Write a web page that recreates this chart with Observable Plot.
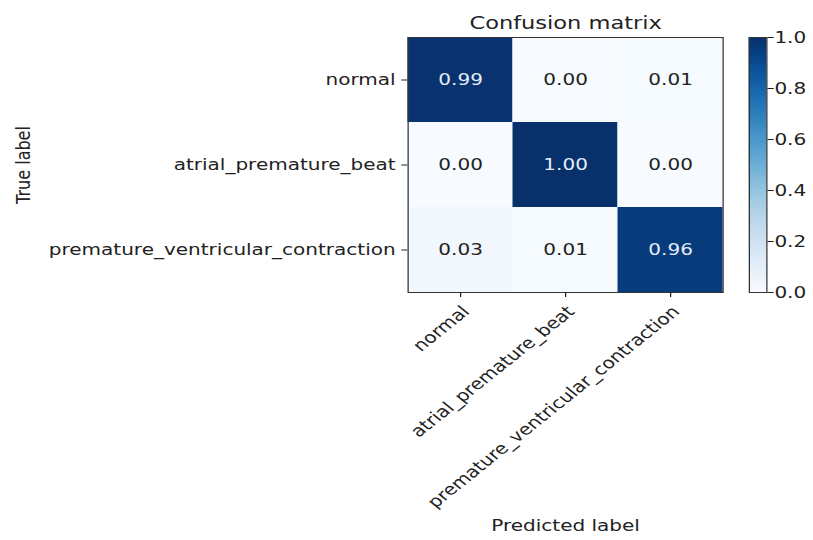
<!DOCTYPE html>
<html>
<head>
<meta charset="utf-8">
<script src="https://cdn.jsdelivr.net/npm/d3@7"></script>
<script src="https://cdn.jsdelivr.net/npm/@observablehq/plot@0.6"></script>
<style>
  html, body { margin: 0; padding: 0; background: white; }
  #wrap { position: relative; width: 650.4px; height: 540px; transform: scaleX(1.25); transform-origin: 0 0; }
  #wrap svg { position: absolute; top: 0; }
</style>
</head>
<body>
<div id="wrap"></div>
<script>
const trueLabels = ["normal", "atrial_premature_beat", "premature_ventricular_contraction"];
const predLabels = ["normal", "atrial_premature_beat", "premature_ventricular_contraction"];
const matrix = [
  [0.99, 0.00, 0.01],
  [0.00, 1.00, 0.00],
  [0.03, 0.01, 0.96]
];
const colorTicks = [0.0, 0.2, 0.4, 0.6, 0.8, 1.0];
const title = "Confusion matrix";

const cells = [];
trueLabels.forEach((t, i) => predLabels.forEach((p, j) => cells.push({t, p, v: matrix[i][j]})));
const thresh = 0.5;

const font = {fontFamily: "'DejaVu Sans', sans-serif", fontSize: "16px", color: "#222", background: "transparent", overflow: "visible"};

const main = Plot.plot({
  width: 650, height: 540,
  marginLeft: 326, marginRight: 72, marginTop: 37, marginBottom: 248,
  style: font,
  x: {domain: predLabels, padding: 0},
  y: {domain: trueLabels, padding: 0, label: "True label", labelAnchor: "center", labelArrow: "none",
      tickSize: 5, tickPadding: 5, labelOffset: 314},
  color: {type: "linear", scheme: "blues", domain: [0, 1]},
  marks: [
    Plot.cell(cells, {x: "p", y: "t", fill: "v"}),
    Plot.text(cells.filter(d => d.v > thresh), {x: "p", y: "t", text: d => d.v.toFixed(2), fill: "#e4ecf8", fontSize: 16}),
    Plot.text(cells.filter(d => d.v <= thresh), {x: "p", y: "t", text: d => d.v.toFixed(2), fill: "#222", fontSize: 16}),
    Plot.frame({stroke: "#333"}),
    Plot.axisX({tickSize: 5, tickFormat: () => "", label: "Predicted label", labelAnchor: "center", labelArrow: "none", labelOffset: 238}),
    Plot.text(predLabels, {x: d => d, frameAnchor: "bottom", rotate: -45, textAnchor: "end", lineAnchor: "top",
      dx: 0, dy: 12, fontSize: 16, fill: "#222"}),
    Plot.text([title], {frameAnchor: "top", dy: -21, fontSize: 18, fill: "#222"})
  ]
});

const stops = d3.range(200).map(i => ({y1: i / 200, y2: Math.min(1, (i + 2) / 200), v: (i + 0.5) / 200}));
const bar = Plot.plot({
  width: 52, height: 540,
  marginLeft: 0, marginRight: 38, marginTop: 37, marginBottom: 248,
  style: font,
  y: {domain: [0, 1], axis: null},
  color: {type: "linear", scheme: "blues", domain: [0, 1]},
  marks: [
    Plot.rect(stops, {y1: "y1", y2: "y2", fill: "v"}),
    Plot.frame({stroke: "#333"}),
    Plot.axisY(colorTicks, {anchor: "right", tickFormat: d3.format(".1f"), tickSize: 5, tickPadding: 1, label: null})
  ]
});
bar.style.left = "599px";

const wrap = document.getElementById("wrap");
main.style.left = "0px";
wrap.appendChild(main);
wrap.appendChild(bar);
</script>
</body>
</html>
